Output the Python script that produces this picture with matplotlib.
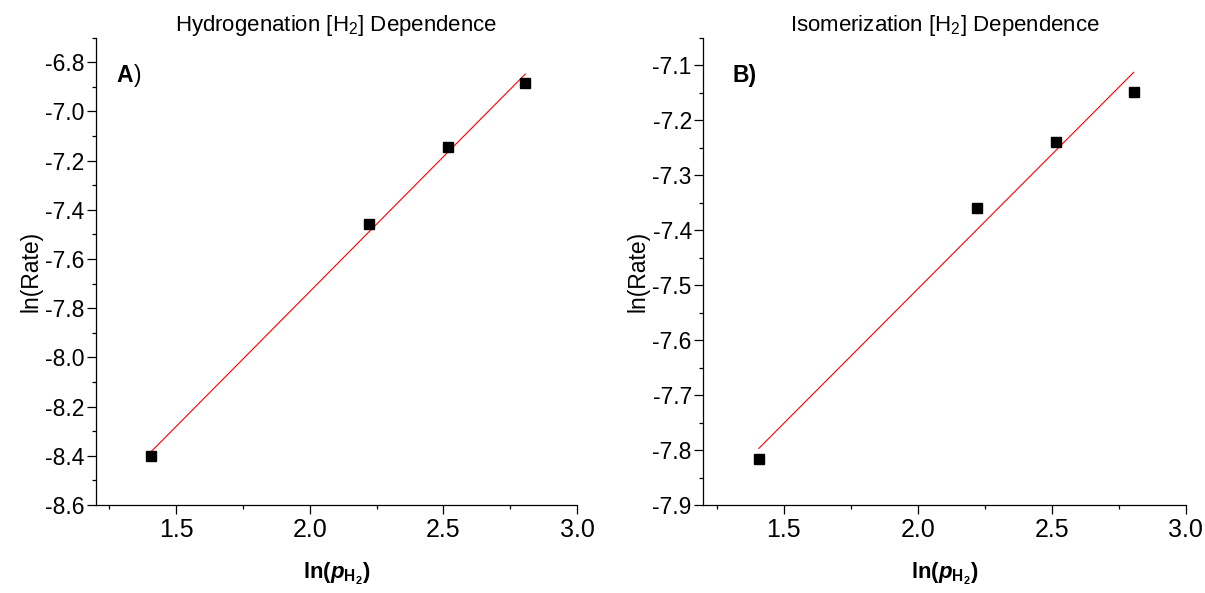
import numpy as np
import matplotlib
matplotlib.use('Agg')
import matplotlib.pyplot as plt
from matplotlib.ticker import MultipleLocator, FormatStrFormatter

plt.rcParams['font.family'] = ['Liberation Sans', 'DejaVu Sans']
plt.rcParams['mathtext.fontset'] = 'custom'
plt.rcParams['mathtext.rm'] = 'Liberation Sans'
plt.rcParams['mathtext.it'] = 'Liberation Sans:italic'
plt.rcParams['mathtext.bf'] = 'Liberation Sans:bold'
plt.rcParams['mathtext.bfit'] = 'Liberation Sans:bold:italic'

# ln(p_H2) values, shared by both panels
ln_p = [1.407, 2.220, 2.516, 2.806]
# ln(rate) for hydrogenation and isomerization
ln_rate_hyd = [-8.401, -7.457, -7.144, -6.885]
ln_rate_iso = [-7.817, -7.359, -7.240, -7.148]

titles = [r'Hydrogenation [H$_2$] Dependence', r'Isomerization [H$_2$] Dependence']
ylims = [(-8.6, -6.7), (-7.9, -7.05)]
ymajor = [0.2, 0.1]

fig = plt.figure(figsize=(12.05, 5.93), dpi=100)
axA = fig.add_axes([0.0797, 0.1484, 0.3992, 0.788])
axB = fig.add_axes([0.5837, 0.1484, 0.4003, 0.788])

for ax, y, title, yl, ym in zip([axA, axB], [ln_rate_hyd, ln_rate_iso], titles, ylims, ymajor):
    # linear fit drawn between the first and last point
    slope, icpt = np.polyfit(ln_p, y, 1)
    xs = np.array([ln_p[0], ln_p[-1]])
    ax.plot(xs, slope * xs + icpt, color='red', lw=0.8)
    ax.plot(ln_p, y, 's', color='black', ms=7.2, ls='none')
    ax.set_xlim(1.2, 3.0)
    ax.set_ylim(*yl)
    ax.xaxis.set_major_locator(MultipleLocator(0.5))
    ax.xaxis.set_minor_locator(MultipleLocator(0.25))
    ax.yaxis.set_major_locator(MultipleLocator(ym))
    ax.yaxis.set_minor_locator(MultipleLocator(ym / 2))
    ax.spines['top'].set_visible(False)
    ax.spines['right'].set_visible(False)
    for s in ['left', 'bottom']:
        ax.spines[s].set_linewidth(0.9)
    ax.tick_params(which='major', length=6.3, width=0.9, direction='out')
    ax.tick_params(which='minor', length=3, width=0.9, direction='out')
    ax.tick_params(axis='x', labelsize=18, pad=3)
    ax.tick_params(axis='y', labelsize=16.5, pad=2)
    ax.xaxis.set_major_formatter(FormatStrFormatter('%.1f'))
    ax.yaxis.set_major_formatter(FormatStrFormatter('%.1f'))
    ax.set_title(title, fontsize=16, pad=2.5)
    ax.set_ylabel('ln(Rate)', fontsize=16.5, labelpad=2)
    ax.set_xlabel(r'ln($\mathbfit{p}_{\mathbf{H_2}}$)', fontsize=16, fontweight='bold', labelpad=14)

axA.text(0.043, 0.906, 'A', transform=axA.transAxes, fontsize=16.5, fontweight='bold')
axA.text(0.079, 0.906, ')', transform=axA.transAxes, fontsize=16.5)
axB.text(0.06, 0.906, 'B)', transform=axB.transAxes, fontsize=16.5, fontweight='bold')

fig.savefig('out.png', dpi=100)
